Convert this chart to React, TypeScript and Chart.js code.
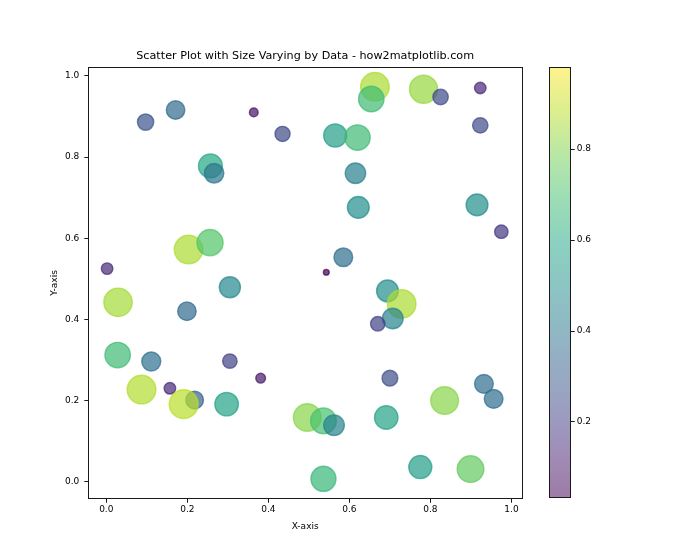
import React, { useEffect, useRef } from "react";
import { Chart, registerables } from "chart.js";

Chart.register(...registerables);

// ---- data ----
const xValues = [
  0.097, 0.171, 0.364, 0.435, 0.257, 0.266, 0.203, 0.256, 0.002, 0.663,
  0.654, 0.783, 0.825, 0.923, 0.923, 0.565, 0.62, 0.615, 0.622, 0.915,
  0.975, 0.585, 0.543, 0.305, 0.029, 0.199, 0.028, 0.111, 0.305, 0.381,
  0.087, 0.157, 0.218, 0.191, 0.297, 0.694, 0.729, 0.707, 0.67, 0.7,
  0.932, 0.956, 0.835, 0.496, 0.536, 0.562, 0.691, 0.775, 0.899, 0.536,
];
const yValues = [
  0.886, 0.916, 0.91, 0.857, 0.778, 0.76, 0.572, 0.589, 0.525, 0.973,
  0.943, 0.967, 0.948, 0.97, 0.878, 0.853, 0.848, 0.76, 0.676, 0.682,
  0.616, 0.553, 0.516, 0.479, 0.442, 0.42, 0.312, 0.296, 0.297, 0.255,
  0.227, 0.23, 0.201, 0.191, 0.191, 0.47, 0.438, 0.402, 0.389, 0.255,
  0.241, 0.204, 0.2, 0.158, 0.15, 0.139, 0.158, 0.036, 0.031, 0.007,
];
const cValues = [
  0.28, 0.36, 0.08, 0.24, 0.6, 0.4, 0.86, 0.72, 0.14, 0.86,
  0.68, 0.83, 0.25, 0.14, 0.25, 0.56, 0.68, 0.44, 0.5, 0.5,
  0.19, 0.37, 0.035, 0.47, 0.85, 0.36, 0.68, 0.38, 0.22, 0.1,
  0.87, 0.14, 0.33, 0.88, 0.58, 0.5, 0.86, 0.45, 0.22, 0.26,
  0.37, 0.37, 0.81, 0.81, 0.7, 0.45, 0.58, 0.56, 0.75, 0.66,
];
const colorRange = [0.035, 0.98];
const xTicks = [0.0, 0.2, 0.4, 0.6, 0.8, 1.0];
const yTicks = [0.0, 0.2, 0.4, 0.6, 0.8, 1.0];
const cbTicks = [0.2, 0.4, 0.6, 0.8];

const titleText = "Scatter Plot with Size Varying by Data - how2matplotlib.com";
const xTitle = "X-axis";
const yTitle = "Y-axis";

// ---- style ----
const FONT = "'DejaVu Sans', sans-serif";
const ALPHA = 0.7;
const CB_ALPHA = 0.52;
const VIRIDIS = [
  [68, 1, 84], [72, 36, 117], [65, 68, 135], [53, 95, 141], [42, 120, 142],
  [33, 145, 140], [34, 168, 132], [68, 191, 112], [122, 209, 81], [189, 223, 38],
  [253, 231, 37],
];
function viridis(t: number): number[] {
  const tt = Math.max(0, Math.min(1, t)) * (VIRIDIS.length - 1);
  const i = Math.min(VIRIDIS.length - 2, Math.floor(tt));
  const f = tt - i;
  const a = VIRIDIS[i], b = VIRIDIS[i + 1];
  return [0, 1, 2].map((k) => Math.round(a[k] + (b[k] - a[k]) * f));
}
const [vmin, vmax] = colorRange;
const colorFor = (c: number) => {
  const [r, g, b] = viridis((c - vmin) / (vmax - vmin));
  return `rgba(${r},${g},${b},${ALPHA})`;
};
const EDGE = 1.46;
const radiusFor = (c: number) => 15.37 * Math.sqrt(c);

// plot frame
const AX_L = 88.3, AX_R = 522, AX_B = 498.7;
const CB_L = 549.3, CB_R = 570.7, CB_T = 67.3, CB_B = 497;

const frame = {
  id: "frame",
  afterDraw(chart: any) {
    const { ctx, chartArea: a } = chart;
    ctx.save();
    ctx.strokeStyle = "#1a1a1a";
    ctx.lineWidth = 1;
    ctx.strokeRect(Math.round(a.left) + 0.5, Math.round(a.top) + 0.5, Math.round(a.right - a.left), Math.round(a.bottom - a.top));
    ctx.restore();
  },
};

const gradientBar = {
  id: "gradientBar",
  beforeDatasetsDraw(chart: any) {
    const { ctx, chartArea: a } = chart;
    const g = ctx.createLinearGradient(0, a.bottom, 0, a.top);
    for (let i = 0; i <= 20; i++) {
      const [r, gg, b] = viridis(i / 20);
      g.addColorStop(i / 20, `rgba(${r},${gg},${b},${CB_ALPHA})`);
    }
    ctx.save();
    ctx.fillStyle = g;
    ctx.fillRect(a.left, a.top, a.right - a.left, a.bottom - a.top);
    ctx.restore();
  },
};

export default function App() {
  const mainRef = useRef<HTMLCanvasElement>(null);
  const cbRef = useRef<HTMLCanvasElement>(null);

  useEffect(() => {
    const points = xValues.map((x, i) => ({ x, y: yValues[i] }));
    const colors = cValues.map(colorFor);
    const radii = cValues.map(radiusFor);
    const main = new Chart(mainRef.current!, {
      type: "scatter",
      data: {
        datasets: [
          {
            data: points,
            pointRadius: radii,
            pointHoverRadius: radii,
            backgroundColor: colors,
            borderColor: colors,
            borderWidth: EDGE,
          },
        ],
      },
      options: {
        responsive: false,
        animation: false,
        events: [],
        layout: { padding: { left: AX_L - 50, right: 700 - AX_R, top: 49.6, bottom: 560 - AX_B - 40 } },
        plugins: {
          legend: { display: false },
          tooltip: { enabled: false },
          title: {
            display: true,
            fullSize: false,
            text: titleText,
            color: "#000",
            font: { family: FONT, size: 11.2, weight: "normal" },
            padding: { top: 0, bottom: 4.3 },
          },
        },
        scales: {
          x: {
            type: "linear",
            min: -0.0444,
            max: 1.026,
            afterFit: (s: any) => { s.height = 40; },
            afterBuildTicks: (s: any) => { s.ticks = xTicks.map((v) => ({ value: v })); },
            grid: { drawOnChartArea: false, drawTicks: true, tickLength: 4, tickColor: "#1a1a1a" },
            border: { display: false },
            ticks: { color: "#000", font: { family: FONT, size: 9 }, padding: 2, maxRotation: 0, callback: (v: any) => Number(v).toFixed(1) },
            title: { display: true, text: xTitle, color: "#000", font: { family: FONT, size: 9 }, padding: { top: 0, bottom: 7 } },
          },
          y: {
            type: "linear",
            min: -0.042,
            max: 1.021,
            afterFit: (s: any) => { s.width = 50; },
            afterBuildTicks: (s: any) => { s.ticks = yTicks.map((v) => ({ value: v })); },
            grid: { drawOnChartArea: false, drawTicks: true, tickLength: 4, tickColor: "#1a1a1a" },
            border: { display: false },
            ticks: { color: "#000", font: { family: FONT, size: 9 }, padding: 5, callback: (v: any) => Number(v).toFixed(1) },
            title: { display: true, text: yTitle, color: "#000", font: { family: FONT, size: 9 }, padding: { top: 11, bottom: 0 } },
          },
        },
      },
      plugins: [frame],
    });

    const cb = new Chart(cbRef.current!, {
      type: "scatter",
      data: { datasets: [] },
      options: {
        responsive: false,
        animation: false,
        events: [],
        layout: { padding: { left: CB_L, right: 700 - CB_R - 40, top: CB_T, bottom: 560 - CB_B } },
        plugins: { legend: { display: false }, tooltip: { enabled: false }, title: { display: false } },
        scales: {
          x: { display: false, min: 0, max: 1 },
          y: {
            type: "linear",
            position: "right",
            min: vmin,
            max: vmax,
            afterFit: (s: any) => { s.width = 40; },
            afterBuildTicks: (s: any) => { s.ticks = cbTicks.map((v) => ({ value: v })); },
            grid: { drawOnChartArea: false, drawTicks: true, tickLength: 4, tickColor: "#1a1a1a" },
            border: { display: false },
            ticks: { color: "#000", font: { family: FONT, size: 9 }, padding: 2, callback: (v: any) => Number(v).toFixed(1) },
          },
        },
      },
      plugins: [gradientBar, frame],
    });

    return () => {
      main.destroy();
      cb.destroy();
    };
  }, []);

  return (
    <div style={{ position: "absolute", left: 0, top: 0, width: 700, height: 560, background: "#fff" }}>
      <canvas ref={mainRef} width={700} height={560} style={{ position: "absolute", left: 0, top: 0 }} />
      <canvas ref={cbRef} width={700} height={560} style={{ position: "absolute", left: 0, top: 0 }} />
    </div>
  );
}
